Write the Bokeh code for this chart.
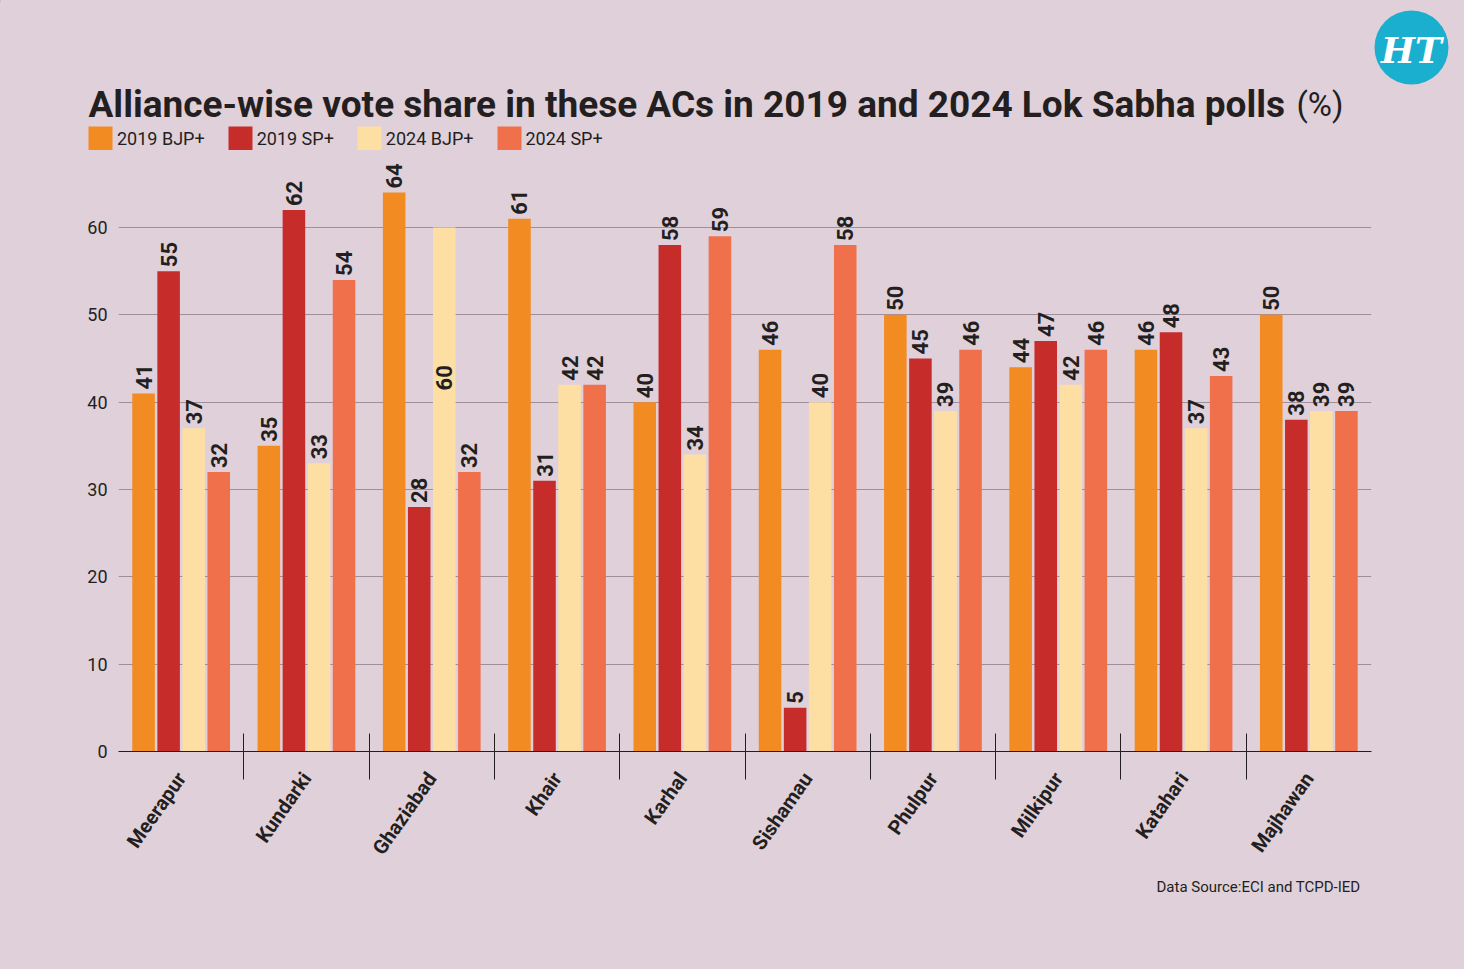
import math
import numpy as np
from bokeh.plotting import figure
from bokeh.layouts import column
from bokeh.models import (ColumnDataSource, Range1d, FixedTicker, Legend,
                          LegendItem, Title)
from bokeh.core.properties import value
from bokeh.embed import file_html
from bokeh.resources import INLINE

# Assembly constituencies and alliance vote shares (%)
categories = ["Meerapur", "Kundarki", "Ghaziabad", "Khair", "Karhal",
              "Sishamau", "Phulpur", "Milkipur", "Katahari", "Majhawan"]
series_names = ["2019 BJP+", "2019 SP+", "2024 BJP+", "2024 SP+"]
bjp_2019 = [41, 35, 64, 61, 40, 46, 50, 44, 46, 50]
sp_2019 = [55, 62, 28, 31, 58, 5, 45, 47, 48, 38]
bjp_2024 = [37, 33, 60, 42, 34, 40, 39, 42, 37, 39]
sp_2024 = [32, 54, 32, 42, 59, 58, 46, 46, 43, 39]
y_ticks = [0, 10, 20, 30, 40, 50, 60]

BG = "#e0d0da"
INK = "#231f20"
GRID = "#a08f9b"
COLORS = ["#f28b22", "#c62d2a", "#fddfa3", "#f0704c"]
FONT = "Roboto"

W = 1464
HEAD_H = 150      # header strip: title, legend, logo
MAIN_H = 819      # chart body

# ---------------- header ----------------
head = figure(width=W, height=HEAD_H, x_range=Range1d(0, W),
              y_range=Range1d(HEAD_H, 0),
              output_backend="svg", toolbar_location=None,
              x_axis_type=None, y_axis_type=None,
              min_border=0, background_fill_color=BG, border_fill_color=BG,
              outline_line_color=None, frame_align=False)
head.grid.visible = False

head.text(x=[88], y=[104],
          text=["Alliance-wise vote share in these ACs in 2019 and 2024 Lok Sabha polls"],
          text_font=value(FONT), text_font_style="bold", text_font_size="37px",
          text_color=INK, text_baseline="alphabetic", text_align="left")
head.text(x=[1296], y=[104], text=["(%)"],
          text_font=value(FONT), text_font_size="33px",
          text_color=INK, text_baseline="alphabetic", text_align="left")

# logo
head.scatter(x=[1411], y=[47], size=74, marker="circle",
             fill_color="#1aaecf", line_color=None)
head.text(x=[1411], y=[49], text=["HT"], text_align="center",
          text_baseline="middle", text_font=value("DejaVu Serif"),
          text_font_style="bold italic", text_font_size="36px",
          text_color="white")

# legend swatches: proxies parked left of the visible strip
proxies = [head.vbar(x=[-100], top=[1], width=1, fill_color=c, line_color=None)
           for c in COLORS]
legend = Legend(items=[LegendItem(label=nm, renderers=[r])
                       for nm, r in zip(series_names, proxies)],
                location=(85, -3), orientation="horizontal",
                glyph_width=30, glyph_height=30, label_standoff=2,
                spacing=20, padding=0, margin=0,
                label_text_font=FONT, label_text_font_size="18px",
                label_text_color=INK, border_line_color=None,
                background_fill_alpha=0)
head.add_layout(legend)

# ---------------- chart body ----------------
n = len(categories)
p = figure(width=W, height=MAIN_H,
           x_range=Range1d(0, n), y_range=Range1d(0, 67.9),
           output_backend="svg", toolbar_location=None,
           min_border_left=118, min_border_right=93,
           min_border_top=8, min_border_bottom=218,
           background_fill_color=BG, border_fill_color=BG,
           outline_line_color=None, frame_align=False)

centers = np.arange(n) + 0.5
offsets = [-0.3, -0.1, 0.1, 0.3]
series = [bjp_2019, sp_2019, bjp_2024, sp_2024]

for name, vals, color, off in zip(series_names, series, COLORS, offsets):
    lab_offset = [-4.0] * n
    if name == "2024 BJP+":
        # the Ghaziabad label sits inside its tall bar
        lab_offset[categories.index("Ghaziabad")] = 163.0
    src = ColumnDataSource(dict(x=centers + off, top=vals,
                                label=[str(v) for v in vals],
                                yoff=lab_offset))
    p.vbar(x="x", top="top", width=0.18, source=src,
           fill_color=color, line_color=None)
    p.text(x="x", y="top", text="label", source=src, angle=math.pi / 2,
           y_offset="yoff", text_align="left", text_baseline="middle",
           text_font=value(FONT), text_font_style="bold",
           text_font_size="22px", text_color=INK)

# x axis: names at group centres, separators between groups
xa = p.xaxis[0]
xa.ticker = FixedTicker(ticks=list(centers), minor_ticks=list(range(1, n)))
xa.major_label_overrides = {float(c): nm for c, nm in zip(centers, categories)}
xa.major_tick_line_color = None
xa.major_tick_out = 0
xa.major_tick_in = 0
xa.minor_tick_line_color = INK
xa.minor_tick_in = 18
xa.minor_tick_out = 28
xa.axis_line_color = INK
xa.axis_line_width = 1
xa.major_label_orientation = math.radians(55)
xa.major_label_text_font = FONT
xa.major_label_text_font_style = "bold"
xa.major_label_text_font_size = "20px"
xa.major_label_text_color = INK
xa.major_label_standoff = -5

ya = p.yaxis[0]
ya.ticker = FixedTicker(ticks=y_ticks)
ya.axis_line_color = None
ya.major_tick_line_color = None
ya.major_tick_out = 0
ya.minor_tick_line_color = None
ya.major_label_text_font = FONT
ya.major_label_text_font_size = "18px"
ya.major_label_text_color = INK
ya.major_label_standoff = 11

p.xgrid.visible = False
p.ygrid.ticker = FixedTicker(ticks=y_ticks)
p.ygrid.grid_line_color = GRID
p.ygrid.grid_line_width = 1

p.add_layout(Title(text="Data Source:ECI and TCPD-IED", align="right",
                   text_font=FONT, text_font_size="15px",
                   text_font_style="normal", text_color=INK,
                   offset=11, standoff=13), "below")

layout = column(head, p, spacing=0, styles={"background-color": BG})
open("out.html", "w").write(file_html(layout, INLINE))
